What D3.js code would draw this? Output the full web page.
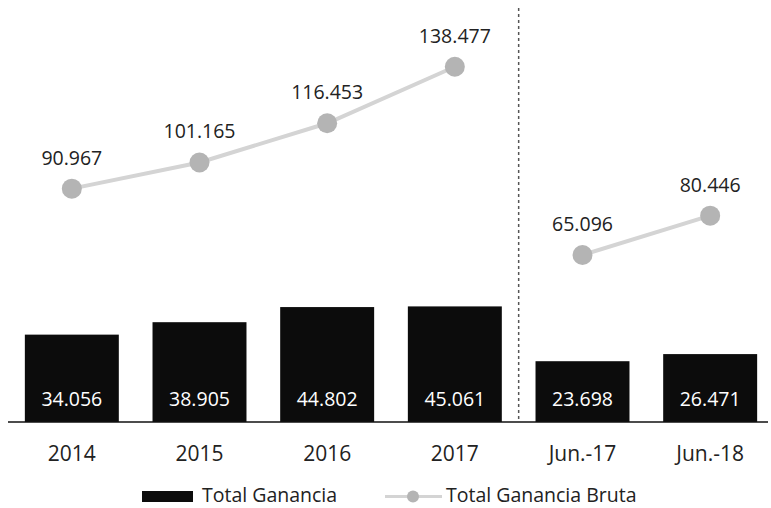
<!DOCTYPE html>
<html><head><meta charset="utf-8">
<script src="https://cdn.jsdelivr.net/npm/d3@7/dist/d3.min.js"></script>
<style>body{margin:0;background:#fff}svg{display:block}text{font-family:"Open Sans",sans-serif}</style>
</head><body><svg id="c" width="771" height="508"></svg>
<script>
const categories = ["2014","2015","2016","2017","Jun.-17","Jun.-18"];
const totalGanancia = [34056, 38905, 44802, 45061, 23698, 26471];
const totalGananciaBruta = [90967, 101165, 116453, 138477, 65096, 80446];
const lineGroups = [[0,1,2,3],[4,5]];
const legendLabels = ["Total Ganancia","Total Ganancia Bruta"];

const svg = d3.select("#c");
const fmt = v => d3.format(",")(v).replace(/,/g, ".");
const x = d3.scaleBand().domain(categories).range([8, 774]).paddingInner(0.264).paddingOuter(0.132);
const y = d3.scaleLinear().domain([0, 164500]).range([422, 0]);

// separator
const sepX = (x("2017") + x.bandwidth() + x("Jun.-17")) / 2;
svg.append("line").attr("x1", sepX).attr("x2", sepX).attr("y1", 8).attr("y2", 420)
  .attr("stroke", "#555").attr("stroke-width", 1.5).attr("stroke-dasharray", "3,3");

// bars
svg.selectAll("rect.bar").data(totalGanancia).join("rect").attr("class","bar")
  .attr("x", (d,i) => x(categories[i])).attr("width", x.bandwidth())
  .attr("y", d => y(d)).attr("height", d => y(0) - y(d)).attr("fill", "#0c0c0c");
svg.selectAll("text.bl").data(totalGanancia).join("text").attr("class","bl")
  .attr("x", (d,i) => x(categories[i]) + x.bandwidth()/2).attr("y", 406)
  .attr("text-anchor","middle").attr("fill","#fff").attr("font-size", 19.5).text(fmt);

// axis
const axis = svg.append("g").attr("transform", "translate(0,422)")
  .call(d3.axisBottom(x).tickSize(0).tickPadding(24));
axis.select(".domain").attr("stroke","#111").attr("stroke-width",1.5).attr("d","M8,0H768");
axis.selectAll("text").attr("font-size", 21).attr("fill","#222").attr("font-family","Open Sans, sans-serif");

// lines
const cx = i => x(categories[i]) + x.bandwidth()/2;
const line = d3.line().x(i => cx(i)).y(i => y(totalGananciaBruta[i]));
lineGroups.forEach(g => {
  svg.append("path").attr("d", line(g)).attr("fill","none").attr("stroke","#d4d4d4").attr("stroke-width",4);
});
svg.selectAll("circle.pt").data(totalGananciaBruta).join("circle").attr("class","pt")
  .attr("cx", (d,i) => cx(i)).attr("cy", d => y(d)).attr("r", 10).attr("fill","#b4b4b4");
svg.selectAll("text.pl").data(totalGananciaBruta).join("text").attr("class","pl")
  .attr("x", (d,i) => cx(i)).attr("y", d => y(d) - 24)
  .attr("text-anchor","middle").attr("fill","#222").attr("font-size", 19.5).text(fmt);

// legend
const lg = svg.append("g");
lg.append("rect").attr("x",142).attr("y",491).attr("width",51).attr("height",11).attr("fill","#0c0c0c");
lg.append("text").attr("x",202).attr("y",502).attr("font-size",19.5).attr("fill","#222").text(legendLabels[0]);
lg.append("line").attr("x1",385).attr("x2",442).attr("y1",496.5).attr("y2",496.5).attr("stroke","#d4d4d4").attr("stroke-width",3);
lg.append("circle").attr("cx",413).attr("cy",496.5).attr("r",6).attr("fill","#b4b4b4");
lg.append("text").attr("x",446).attr("y",502).attr("font-size",19.5).attr("fill","#222").text(legendLabels[1]);
</script></body></html>
